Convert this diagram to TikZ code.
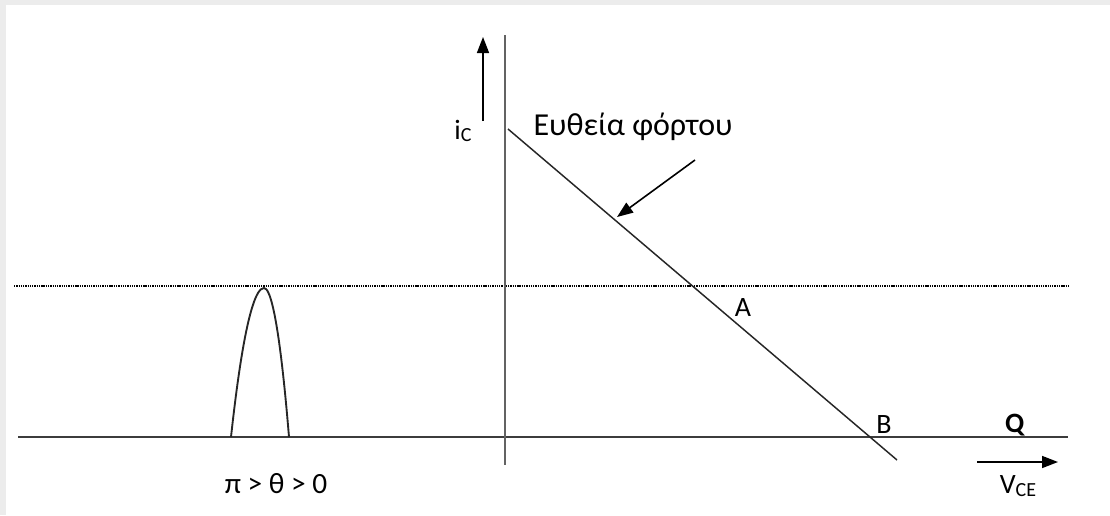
\documentclass[tikz,border=0pt]{standalone}
\usepackage{fontspec}
\setmainfont{Carlito}
\usetikzlibrary{arrows.meta}
\definecolor{xAxis}{RGB}{60,60,60}
\definecolor{xFrame}{RGB}{236,236,236}
\tikzset{
  axisline/.style={xAxis, line width=1.6pt},
  loadline/.style={black!85, line width=1.1pt},
  level/.style={black, line width=0.8pt, dash pattern=on 1pt off 0.7pt},
  pointer/.style={-{Triangle[length=12pt, width=9pt]}, line width=1.2pt},
  lbl/.style={font=\fontsize{21}{24}\selectfont, inner sep=0pt},
}
\newcommand{\smallsub}[1]{\raisebox{-2pt}{\fontsize{15}{15}\selectfont #1}}

\begin{document}
\begin{tikzpicture}[x=0.75pt, y=-0.75pt]
    \fill[xFrame] (0,0) rectangle (1110,515);
    \fill[white] (6,5) rectangle (1110,515);
    \useasboundingbox (0,0) rectangle (1110,515);
    \coordinate (vtop) at (505,35);
    \coordinate (vbot) at (505,465);
    \coordinate (hl)   at (18,437);
    \coordinate (hr)   at (1068,437);
    \coordinate (dl)   at (14,286);
    \coordinate (dr)   at (1070,286);
    \coordinate (ls)   at (508,129);
    \coordinate (le)   at (897,460);
    \coordinate (hump0) at (231,437);
    \coordinate (humpT) at (264,288);
    \coordinate (hump1) at (289,437);
    \coordinate (ptail) at (695,160);
    \coordinate (phead) at (617,217);
    \coordinate (ictail) at (483,121);
    \coordinate (ichead) at (483,37);
    \coordinate (vtail) at (977,462);
    \coordinate (vhead) at (1058,462);
    \node[lbl, font=\fontsize{24}{28}\selectfont] (title) at (633,127) {Ευθεία φόρτου};
    \node[lbl] (ic)    at (463,131) {i\smallsub{C}};
    \node[lbl] (ptA)   at (743,308) {A};
    \node[lbl] (ptB)   at (884,425) {B};
    \node[lbl] (ptQ)   at (1015,425) {\textbf{Q}};
    \node[lbl] (vce)   at (1018,486) {V\smallsub{CE}};
    \node[lbl, font=\fontsize{22}{26}\selectfont] (angle) at (276,484) {π > θ > 0};
    \draw[level] (dl) -- (dr);
    \draw[axisline] (hl) -- (hr);
    \draw[axisline, xAxis!80] (vtop) -- (vbot);
    \draw[loadline] (ls) -- (le);
    \draw[loadline, line width=1.4pt] (hump0) parabola bend (humpT) (hump1);
    \draw[pointer] (ptail) -- (phead);
    \draw[pointer] (ictail) -- (ichead);
    \draw[pointer] (vtail) -- (vhead);
  \end{tikzpicture}
\end{document}
